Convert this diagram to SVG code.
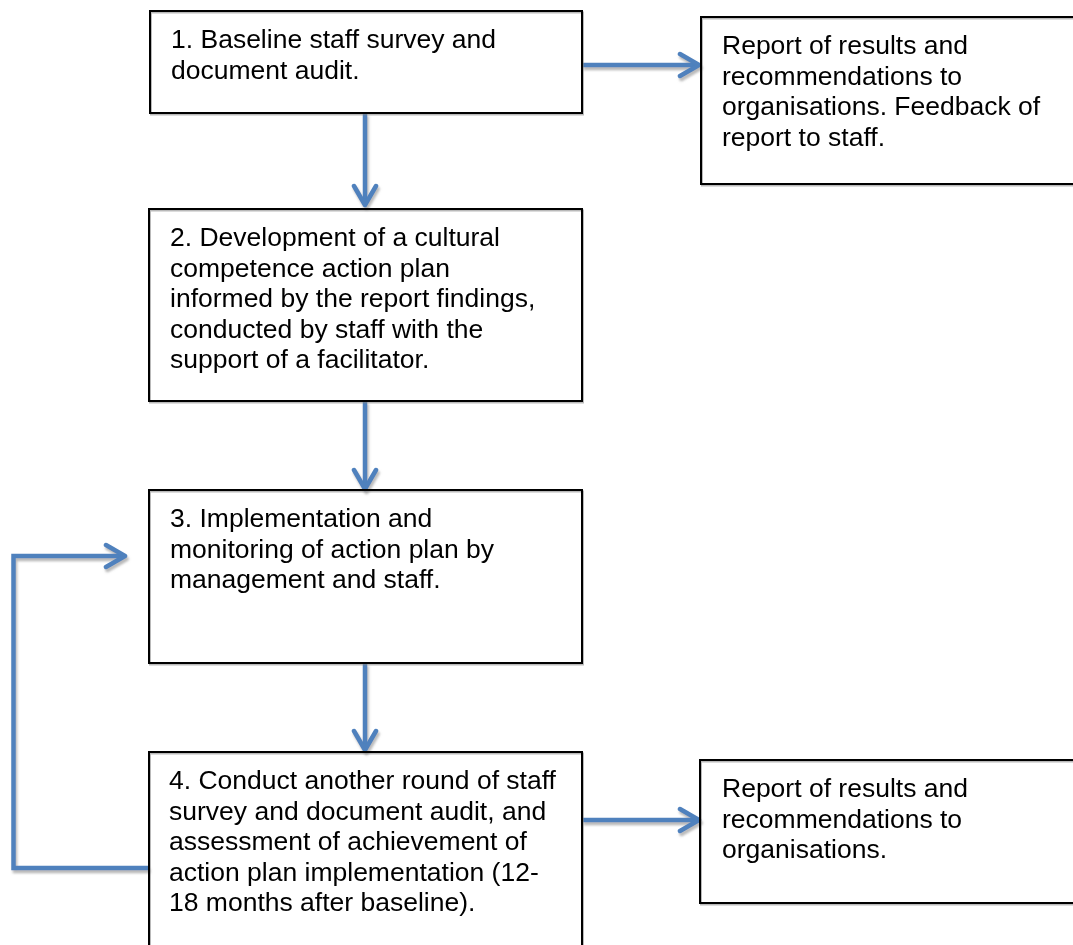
<svg xmlns="http://www.w3.org/2000/svg" width="1073" height="945" viewBox="0 0 1073 945">
  <defs>
    <style>
      .box { fill: none; stroke: #000; stroke-width: 2; }
      .label { font-family: "Liberation Sans", Arial, sans-serif; font-size: 26.5px; fill: #000; }
      .link { fill: none; stroke: #4F81BD; stroke-width: 4.5; stroke-linejoin: miter; }
      .head { fill: none; stroke: #4F81BD; stroke-width: 4.5; stroke-linecap: round; stroke-linejoin: round; }
    </style>
    <filter id="boxShade" x="-5%" y="-5%" width="110%" height="110%">
      <feDropShadow dx="1" dy="1.5" stdDeviation="0.6" flood-color="#7f7f7f" flood-opacity="0.55"/>
    </filter>
    <filter id="linkShade" x="-10%" y="-10%" width="120%" height="120%">
      <feDropShadow dx="1.5" dy="3" stdDeviation="0.9" flood-color="#8c8c8c" flood-opacity="0.6"/>
    </filter>
    <!-- open chevron head, tip at the local origin, pointing along +x -->
    <path id="chev" class="head" d="M-19,-11 L0,0 L-19,11"/>
  </defs>

  <rect width="1073" height="945" fill="#fff"/>

  <!-- connectors -->
  <g id="connectors" filter="url(#linkShade)">
    <!-- step 1 -> report -->
    <path class="link" d="M582,65 H698"/>
    <use href="#chev" transform="translate(699,65)"/>
    <!-- step 1 -> step 2 -->
    <path class="link" d="M365,113 V204"/>
    <use href="#chev" transform="translate(365,205) rotate(90)"/>
    <!-- step 2 -> step 3 -->
    <path class="link" d="M365,401 V488"/>
    <use href="#chev" transform="translate(365,489) rotate(90)"/>
    <!-- step 3 -> step 4 -->
    <path class="link" d="M365,663 V749"/>
    <use href="#chev" transform="translate(365,750) rotate(90)"/>
    <!-- step 4 -> report -->
    <path class="link" d="M582,820 H698"/>
    <use href="#chev" transform="translate(699,820)"/>
    <!-- feedback loop: step 4 back to step 3 -->
    <path class="link" d="M149,868 H13.5 V556 H124"/>
    <use href="#chev" transform="translate(125,556)"/>
  </g>

  <g id="step1">
    <rect class="box" x="150" y="11" width="432" height="102" filter="url(#boxShade)"/>
    <text class="label" x="171" y="48">1. Baseline staff survey and</text>
    <text class="label" x="171" y="78.5">document audit.</text>
  </g>

  <g id="report1">
    <rect class="box" x="701" y="17" width="400" height="167" filter="url(#boxShade)"/>
    <text class="label" x="722" y="54">Report of results and</text>
    <text class="label" x="722" y="84.5">recommendations to</text>
    <text class="label" x="722" y="115">organisations. Feedback of</text>
    <text class="label" x="722" y="145.5">report to staff.</text>
  </g>

  <g id="step2">
    <rect class="box" x="149" y="209" width="433" height="192" filter="url(#boxShade)"/>
    <text class="label" x="170" y="246">2. Development of a cultural</text>
    <text class="label" x="170" y="276.5">competence action plan</text>
    <text class="label" x="170" y="307">informed by the report findings,</text>
    <text class="label" x="170" y="337.5">conducted by staff with the</text>
    <text class="label" x="170" y="368">support of a facilitator.</text>
  </g>

  <g id="step3">
    <rect class="box" x="149" y="490" width="433" height="173" filter="url(#boxShade)"/>
    <text class="label" x="170" y="527">3. Implementation and</text>
    <text class="label" x="170" y="557.5">monitoring of action plan by</text>
    <text class="label" x="170" y="588">management and staff.</text>
  </g>

  <g id="step4">
    <rect class="box" x="149" y="752" width="433" height="220" filter="url(#boxShade)"/>
    <text class="label" x="169" y="789">4. Conduct another round of staff</text>
    <text class="label" x="169" y="819.5">survey and document audit, and</text>
    <text class="label" x="169" y="850">assessment of achievement of</text>
    <text class="label" x="169" y="880.5">action plan implementation (12-</text>
    <text class="label" x="169" y="911">18 months after baseline).</text>
  </g>

  <g id="report2">
    <rect class="box" x="700" y="760" width="400" height="143" filter="url(#boxShade)"/>
    <text class="label" x="722" y="797">Report of results and</text>
    <text class="label" x="722" y="827.5">recommendations to</text>
    <text class="label" x="722" y="858">organisations.</text>
  </g>
</svg>
